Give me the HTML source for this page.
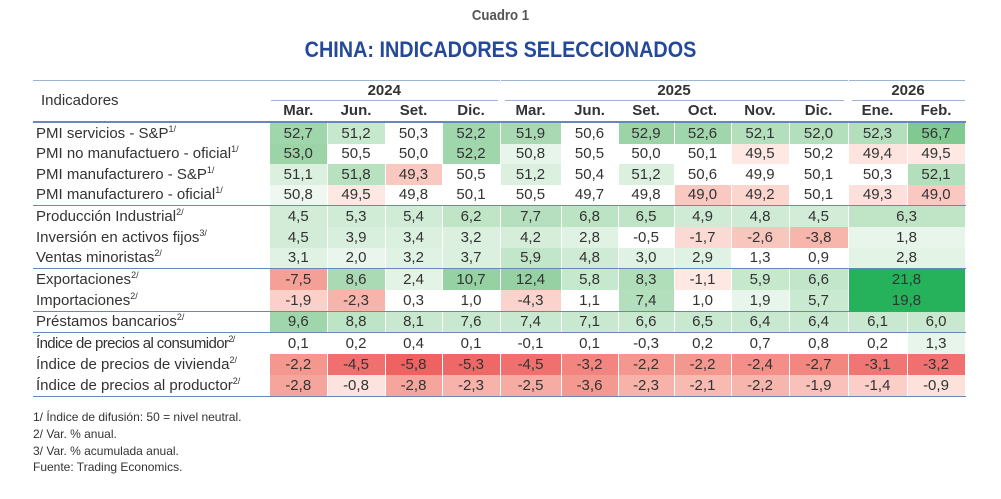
<!DOCTYPE html>
<html><head><meta charset="utf-8"><style>
body{margin:0;width:1001px;height:499px;background:#fff;font-family:"Liberation Sans",sans-serif;color:#333;position:relative;overflow:hidden}
.c1{position:absolute;top:7px;left:0;width:1001px;text-align:center;font-size:15px;font-weight:bold;color:#555;transform:scaleX(0.88)}
.t{position:absolute;top:37px;left:0;width:1001px;text-align:center;font-size:22px;font-weight:bold;color:#24499a;transform:scaleX(0.9)}
table{position:absolute;left:33px;top:80px;border-collapse:collapse;table-layout:fixed;width:932px;font-size:15px}
td{padding:0;height:21px;text-align:center;border-right:1px solid #fff;line-height:20px;white-space:nowrap}
tr.s td{height:20px}
td.l{text-align:left;padding-left:3px;border-right:none;background:#fff}
tr.top td{border-top:1.5px solid #9fb3d9}
tr.yr td{height:19px;font-weight:bold;line-height:19px}
tr.mo td{font-weight:bold;height:20px;line-height:20px;border-bottom:2px solid #6a86c0}
tr.sep td{border-bottom:1.5px solid #6a86c0}
sup{font-size:9px;vertical-align:6px;line-height:0}
.ul{border-bottom:1.5px solid #9fb3d9}
.f{position:absolute;left:33px;font-size:12px;color:#333}
</style></head><body>
<div class="c1">Cuadro 1</div>
<div class="t">CHINA: INDICADORES SELECCIONADOS</div>
<table>
<colgroup><col style="width:237px"><col style="width:57px"><col style="width:58px"><col style="width:57px"><col style="width:58px"><col style="width:61px"><col style="width:57px"><col style="width:56px"><col style="width:57px"><col style="width:58px"><col style="width:59px"><col style="width:59px"><col style="width:58px"></colgroup>
<tr class="top yr"><td class="l" rowspan="2" style="vertical-align:top;padding-top:10px;padding-left:8px;font-weight:normal;border-bottom:2px solid #6a86c0">Indicadores</td><td colspan="4"><div class="ul" style="margin:0 2px 0 1px">2024</div></td><td colspan="6"><div class="ul" style="margin:0 4px 0 4px">2025</div></td><td colspan="2"><div class="ul" style="margin:0 0 0 3px">2026</div></td></tr>
<tr class="mo"><td>Mar.</td><td>Jun.</td><td>Set.</td><td>Dic.</td><td>Mar.</td><td>Jun.</td><td>Set.</td><td>Oct.</td><td>Nov.</td><td>Dic.</td><td>Ene.</td><td>Feb.</td></tr>
<tr><td class="l">PMI servicios - S&amp;P<sup>1/</sup></td><td style="background:#a0d6ab">52,7</td><td style="background:#c6e8cd">51,2</td><td>50,3</td><td style="background:#a0d6ab">52,2</td><td style="background:#a8d9b2">51,9</td><td>50,6</td><td style="background:#9cd4a7">52,9</td><td style="background:#a0d6ab">52,6</td><td style="background:#b3dfbc">52,1</td><td style="background:#b3dfbc">52,0</td><td style="background:#b3dfbc">52,3</td><td style="background:#80c991">56,7</td></tr>
<tr class="s"><td class="l">PMI no manufactuero - oficial<sup>1/</sup></td><td style="background:#9cd4a7">53,0</td><td>50,5</td><td>50,0</td><td style="background:#a0d6ab">52,2</td><td style="background:#e8f5eb">50,8</td><td>50,5</td><td>50,0</td><td>50,1</td><td style="background:#fde8e4">49,5</td><td>50,2</td><td style="background:#fde4df">49,4</td><td style="background:#fde8e4">49,5</td></tr>
<tr><td class="l">PMI manufacturero - S&amp;P<sup>1/</sup></td><td style="background:#dcf0e0">51,1</td><td style="background:#b8e1c0">51,8</td><td style="background:#f9c8c0">49,3</td><td>50,5</td><td style="background:#dcf0e0">51,2</td><td>50,4</td><td style="background:#dcf0e0">51,2</td><td>50,6</td><td>49,9</td><td>50,1</td><td>50,3</td><td style="background:#b3dfbc">52,1</td></tr>
<tr class="sep s"><td class="l">PMI manufacturero - oficial<sup>1/</sup></td><td style="background:#eef8f0">50,8</td><td style="background:#fde8e4">49,5</td><td>49,8</td><td>50,1</td><td>50,5</td><td>49,7</td><td>49,8</td><td style="background:#f9c8c0">49,0</td><td style="background:#fbd6cf">49,2</td><td>50,1</td><td style="background:#fce0db">49,3</td><td style="background:#f9c8c0">49,0</td></tr>
<tr><td class="l">Producción Industrial<sup>2/</sup></td><td style="background:#d3ecd8">4,5</td><td style="background:#d0ebd6">5,3</td><td style="background:#d0ebd6">5,4</td><td style="background:#bfe4c6">6,2</td><td style="background:#b5dfbe">7,7</td><td style="background:#bde3c5">6,8</td><td style="background:#bfe4c6">6,5</td><td style="background:#cfead5">4,9</td><td style="background:#cfead5">4,8</td><td style="background:#d3ecd8">4,5</td><td colspan="2" style="background:#bfe4c6">6,3</td></tr>
<tr><td class="l">Inversión en activos fijos<sup>3/</sup></td><td style="background:#d3ecd8">4,5</td><td style="background:#d9efde">3,9</td><td style="background:#dcf0e0">3,4</td><td style="background:#dcf0e0">3,2</td><td style="background:#d6edda">4,2</td><td style="background:#e0f2e4">2,8</td><td>-0,5</td><td style="background:#fcdad4">-1,7</td><td style="background:#f9c6be">-2,6</td><td style="background:#f7b5ab">-3,8</td><td colspan="2" style="background:#e8f5eb">1,8</td></tr>
<tr class="sep s"><td class="l">Ventas minoristas<sup>2/</sup></td><td style="background:#e0f2e4">3,1</td><td style="background:#eaf6ed">2,0</td><td style="background:#e0f2e4">3,2</td><td style="background:#dcf0e0">3,7</td><td style="background:#c2e6c9">5,9</td><td style="background:#cfead5">4,8</td><td style="background:#e0f2e4">3,0</td><td style="background:#e0f2e4">2,9</td><td>1,3</td><td>0,9</td><td colspan="2" style="background:#e3f3e6">2,8</td></tr>
<tr><td class="l">Exportaciones<sup>2/</sup></td><td style="background:#f4a096">-7,5</td><td style="background:#a9dab3">8,6</td><td style="background:#e3f3e6">2,4</td><td style="background:#95d1a2">10,7</td><td style="background:#95d1a2">12,4</td><td style="background:#c6e8cd">5,8</td><td style="background:#b0deb9">8,3</td><td style="background:#fde8e4">-1,1</td><td style="background:#c6e8cd">5,9</td><td style="background:#c2e6c9">6,6</td><td colspan="2" rowspan="2" style="background:#25b25b;vertical-align:top;line-height:21px">21,8<br>19,8</td></tr>
<tr class="sep"><td class="l">Importaciones<sup>2/</sup></td><td style="background:#fad0c9">-1,9</td><td style="background:#f7b4aa">-2,3</td><td>0,3</td><td>1,0</td><td style="background:#fad3cc">-4,3</td><td>1,1</td><td style="background:#b3dfbc">7,4</td><td>1,0</td><td style="background:#e8f5eb">1,9</td><td style="background:#c9e9d0">5,7</td></tr>
<tr class="sep s"><td class="l">Préstamos bancarios<sup>2/</sup></td><td style="background:#a0d6ab">9,6</td><td style="background:#bde4c5">8,8</td><td style="background:#c8e8cf">8,1</td><td style="background:#c8e8cf">7,6</td><td style="background:#c8e8cf">7,4</td><td style="background:#c8e8cf">7,1</td><td style="background:#c8e8cf">6,6</td><td style="background:#c8e8cf">6,5</td><td style="background:#c8e8cf">6,4</td><td style="background:#c8e8cf">6,4</td><td style="background:#c8e8cf">6,1</td><td style="background:#c8e8cf">6,0</td></tr>
<tr><td class="l" style="letter-spacing:-0.6px">Índice de precios al consumidor<sup>2/</sup></td><td>0,1</td><td>0,2</td><td>0,4</td><td>0,1</td><td>-0,1</td><td>0,1</td><td>-0,3</td><td>0,2</td><td>0,7</td><td>0,8</td><td>0,2</td><td style="background:#e8f5eb">1,3</td></tr>
<tr><td class="l">Índice de precios de vivienda<sup>2/</sup></td><td style="background:#f4988f">-2,2</td><td style="background:#f07070">-4,5</td><td style="background:#ee6262">-5,8</td><td style="background:#ef6868">-5,3</td><td style="background:#f07070">-4,5</td><td style="background:#f28580">-3,2</td><td style="background:#f4988f">-2,2</td><td style="background:#f4988f">-2,2</td><td style="background:#f38f88">-2,4</td><td style="background:#f2877f">-2,7</td><td style="background:#f07676">-3,1</td><td style="background:#f07070">-3,2</td></tr>
<tr class="sep"><td class="l">Índice de precios al productor<sup>2/</sup></td><td style="background:#f5a59c">-2,8</td><td style="background:#fde3de">-0,8</td><td style="background:#f5a59c">-2,8</td><td style="background:#f7b3aa">-2,3</td><td style="background:#f6aca3">-2,5</td><td style="background:#f4998f">-3,6</td><td style="background:#f7b3aa">-2,3</td><td style="background:#f8bab1">-2,1</td><td style="background:#f7b6ad">-2,2</td><td style="background:#f9c1b9">-1,9</td><td style="background:#fbcfc8">-1,4</td><td style="background:#fde2dc">-0,9</td></tr>
</table>
<div class="f" style="top:410px">1/ Índice de difusión: 50 = nivel neutral.</div>
<div class="f" style="top:427px">2/ Var. % anual.</div>
<div class="f" style="top:444px">3/ Var. % acumulada anual.</div>
<div class="f" style="top:460px">Fuente: Trading Economics.</div>
</body></html>
